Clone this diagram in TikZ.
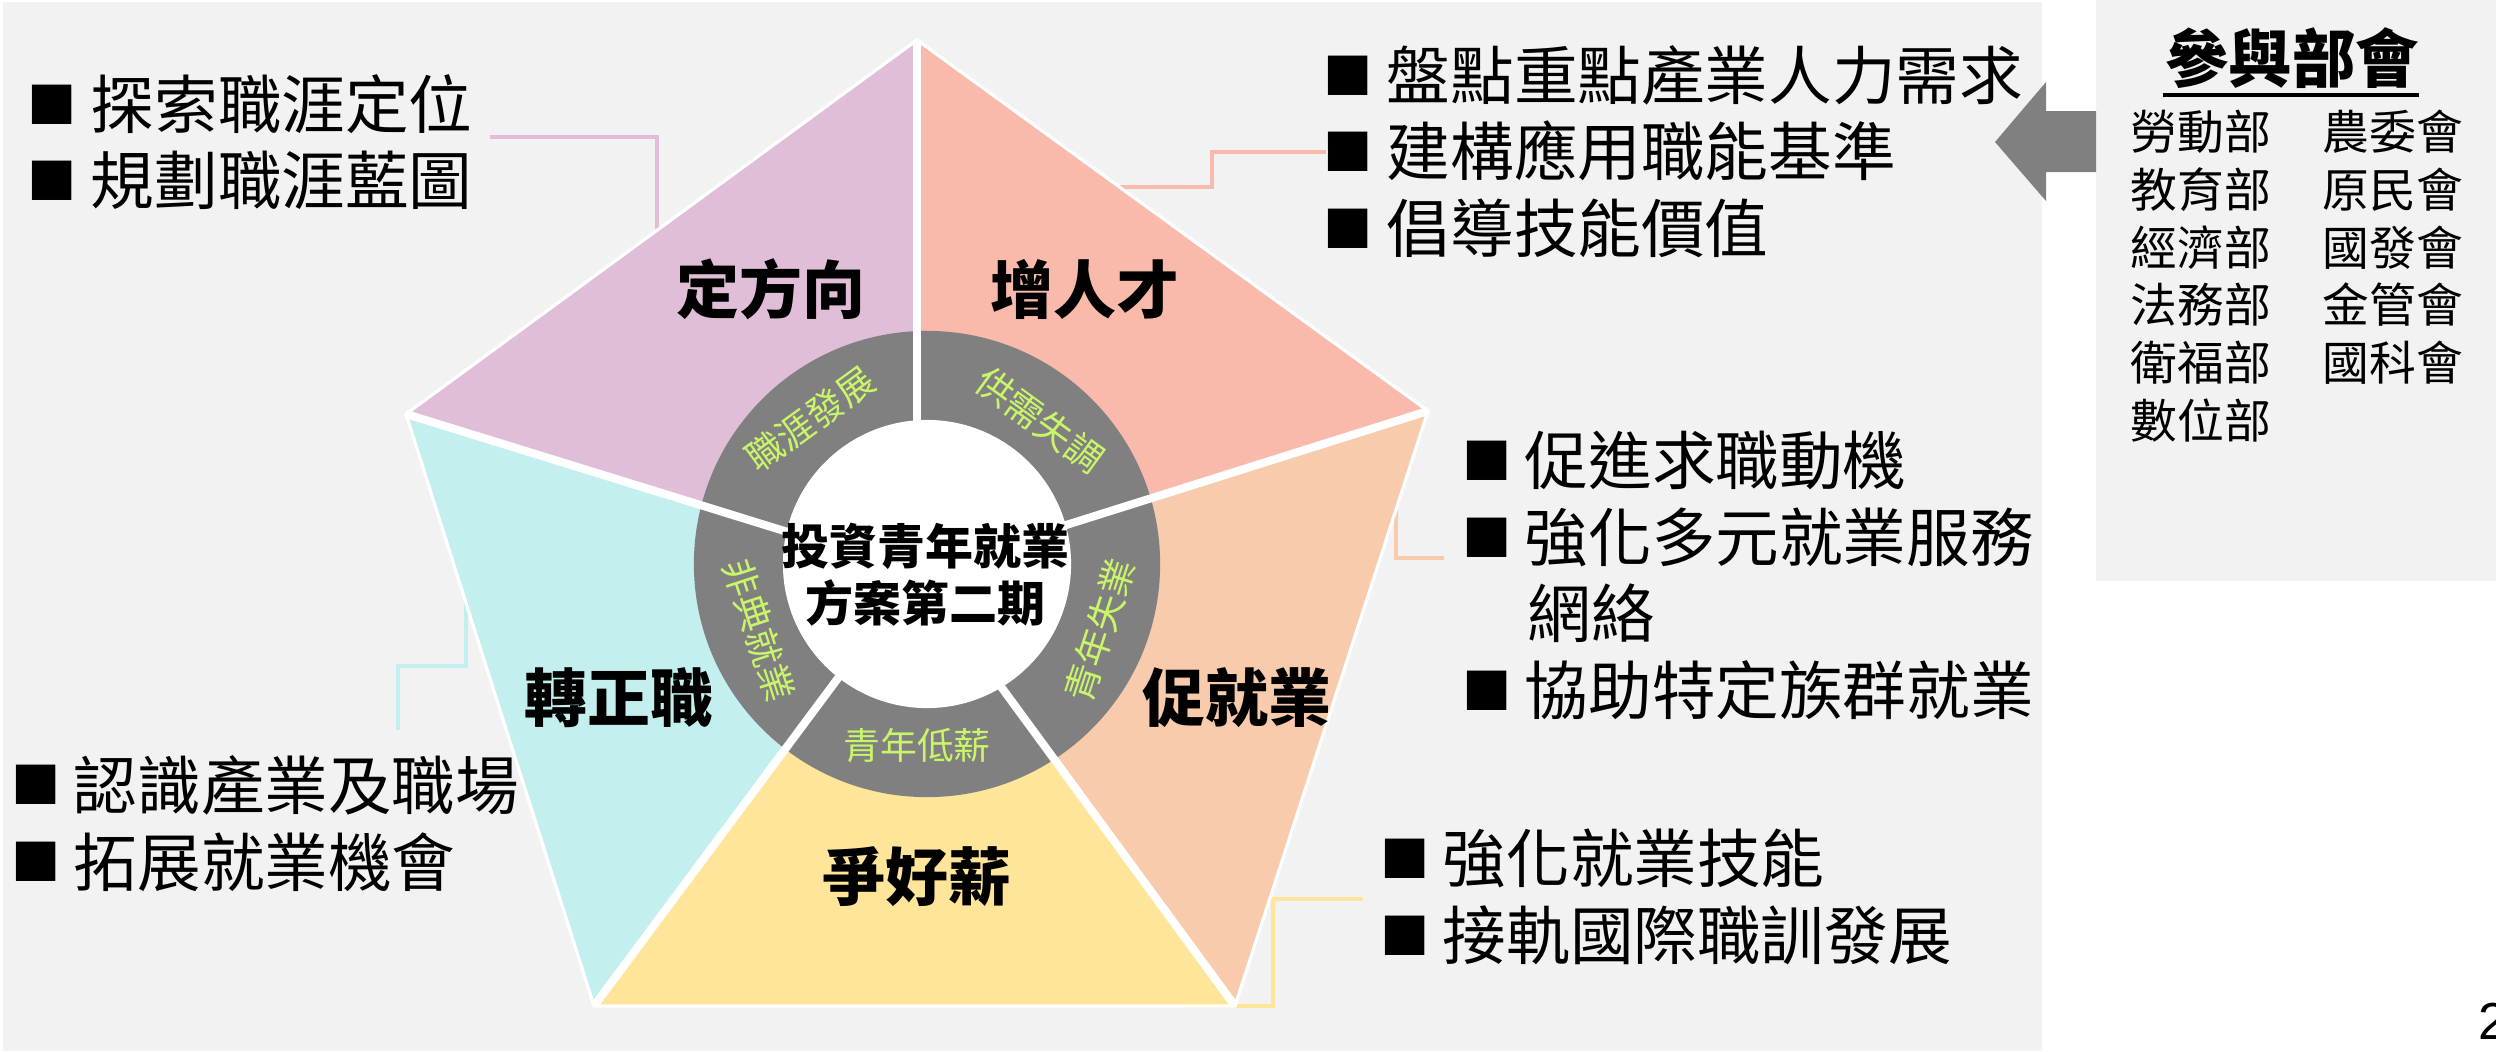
\documentclass[tikz,border=0pt]{standalone}
\usepackage{fontspec}
\setmainfont{Noto Sans CJK TC}
\newfontfamily\latinsans{Liberation Sans}
\definecolor{bgc}{HTML}{F2F2F2}
\definecolor{purp}{HTML}{E1BED7}
\definecolor{salm}{HTML}{F9B9AB}
\definecolor{peach}{HTML}{F7CBAC}
\definecolor{yell}{HTML}{FFE599}
\definecolor{cyanc}{HTML}{C3EFEE}
\definecolor{ringc}{HTML}{808080}
\definecolor{labg}{HTML}{C8F56A}
\definecolor{arrc}{HTML}{808080}
\newcommand\fbul{\fontsize{18.1pt}{21pt}\selectfont}
\newcommand\fsq{\fontsize{14pt}{14pt}\selectfont}
\newcommand\fttl{\fontsize{17.9pt}{20pt}\selectfont\bfseries}
\newcommand\fctr{\fontsize{13.65pt}{16.2pt}\selectfont\bfseries}
\newcommand\frl{\fontsize{10.5pt}{12pt}\selectfont}
\newcommand\fdept{\fontsize{13.3pt}{15pt}\selectfont}
\newcommand\fhead{\fontsize{18pt}{20pt}\selectfont\bfseries}
\begin{document}
\begin{tikzpicture}[x=0.01cm,y=-0.01cm,
  bul/.style={inner sep=0pt,anchor=center,font=\fsq},
  txt/.style={inner sep=0pt,anchor=west,font=\fbul},
  ttl/.style={inner sep=0pt,anchor=center,font=\fttl},
  rlab/.style={inner sep=0pt,anchor=center,text=labg,font=\frl},
  dept/.style={inner sep=0pt,anchor=west,font=\fdept},
  callout/.style={line width=1.4pt,line cap=butt,line join=miter},
  divider/.style={white,line width=2.3pt}]
\useasboundingbox (0,0) rectangle (2496,1051);
% backgrounds
\fill[bgc] (3,2) rectangle (2042,1051);
\fill[bgc] (2096,0) rectangle (2496,581);
% pentagon geometry
\coordinate (T) at (917,40);
\coordinate (R) at (1428,411);
\coordinate (BR) at (1235,1006);
\coordinate (BL) at (594,1006);
\coordinate (L) at (406,414);
\coordinate (P) at (917,572);
\coordinate (C) at (927,564);
% callout coordinates
\coordinate (pa) at (490,137); \coordinate (pb) at (657,137); \coordinate (pc) at (657,232);
\coordinate (sa) at (1326,152); \coordinate (sb) at (1212,152); \coordinate (sc) at (1212,187); \coordinate (sd) at (1116,187);
\coordinate (ea) at (1444,558); \coordinate (eb) at (1396,558); \coordinate (ec) at (1396,505);
\coordinate (ya) at (1363,899); \coordinate (yb) at (1273,899); \coordinate (yc) at (1273,1006); \coordinate (yd) at (1186,1006);
\coordinate (ka) at (398,730); \coordinate (kb) at (398,666); \coordinate (kc) at (466,666); \coordinate (kd) at (466,598);
\draw[callout,purp] (pa) -- (pb) -- (pc);
\draw[callout,salm] (sa) -- (sb) -- (sc) -- (sd);
\draw[callout,peach] (ea) -- (eb) -- (ec);
\draw[callout,yell] (ya) -- (yb) -- (yc) -- (yd);
\draw[callout,cyanc] (ka) -- (kb) -- (kc) -- (kd);
% slices
\fill[purp] (T) -- (L) -- (P) -- cycle;
\fill[salm] (T) -- (R) -- (P) -- cycle;
\fill[peach] (R) -- (BR) -- (P) -- cycle;
\fill[yell] (BR) -- (BL) -- (P) -- cycle;
\fill[cyanc] (BL) -- (L) -- (P) -- cycle;
\draw[white,line width=0.9pt,line join=miter] (T) -- (R) -- (BR) -- (BL) -- (L) -- cycle;
% ring
\fill[ringc] (C) circle (2.33cm);
\draw[divider] (T) -- (P);
\draw[divider] (R) -- (P);
\draw[divider] (BR) -- (P);
\draw[divider] (BL) -- (P);
\draw[divider] (L) -- (P);
\fill[white] (C) circle (1.44cm);
% center text
\node[inner sep=0pt,align=center,font=\fctr] (ctext) at (925,575) {投資青年就業\\方案第二期};
% ring labels
\node[rlab,rotate=36] (r1) at (810,419) {職涯發展};
\node[rlab,rotate=-36] (r2) at (1040,420) {供需失調};
\node[rlab,rotate=72] (r3) at (1100,630) {青年失業};
\node[rlab] (r4) at (917,746) {青年低薪};
\node[rlab,rotate=-72] (r5) at (759,630) {非典就業};
% slice titles
\node[ttl] (s1) at (771,289) {定方向};
\node[ttl] (s2) at (1085,289) {增人才};
\node[ttl] (s3) at (1237,698) {促就業};
\node[ttl] (s4) at (917,877) {爭好薪};
\node[ttl] (s5) at (619,698) {轉正職};
% top-left bullets
\node[bul] (q1) at (52,105) {■};
\node[txt] (t1) at (90,104) {探索職涯定位};
\node[bul] (q2) at (52,181) {■};
\node[txt] (t2) at (90,180) {規劃職涯藍圖};
% top-right bullets
\node[bul] (q3) at (1348,76) {■};
\node[txt] (t3) at (1386,75) {盤點重點產業人力需求};
\node[bul] (q4) at (1348,152) {■};
\node[txt] (t4) at (1386,151) {建構應用職能基準};
\node[bul] (q5) at (1348,229) {■};
\node[txt] (t5) at (1386,228) {倡導技能價值};
% right-middle bullets
\node[bul] (q6) at (1487,461) {■};
\node[txt] (t6) at (1524,460) {促進求職動機};
\node[bul] (q7) at (1487,538) {■};
\node[txt] (t7) at (1524,537) {強化多元就業服務};
\node[txt] (t7b) at (1527,613) {網絡};
\node[bul] (q8) at (1487,691) {■};
\node[txt] (t8) at (1524,690) {協助特定族群就業};
% bottom-right bullets
\node[bul] (q9) at (1405,859) {■};
\node[txt] (t9) at (1442,858) {強化就業技能};
\node[bul] (q10) at (1405,936) {■};
\node[txt] (t10) at (1442,935) {接軌國際職訓發展};
% bottom-left bullets
\node[bul] (q11) at (36,785) {■};
\node[txt] (t11) at (73,785) {認識產業及職場};
\node[bul] (q12) at (36,862) {■};
\node[txt] (t12) at (73,862) {拓展就業機會};
% arrow
\fill[arrc] (1995,142) -- (2046,82) -- (2046,111) -- (2096,111) -- (2096,172) -- (2046,172) -- (2046,201) -- cycle;
% departments box
\node[inner sep=0pt,font=\fhead] (head) at (2292,58) {參與部會};
\coordinate (u1) at (2163,95); \coordinate (u2) at (2419,95);
\draw[line width=1.1pt] (u1) -- (u2);
\node[dept] (d1) at (2130,132) {勞動部};
\node[dept] (d2) at (2130,190) {教育部};
\node[dept] (d3) at (2130,248) {經濟部};
\node[dept] (d4) at (2130,305) {法務部};
\node[dept] (d5) at (2130,363) {衛福部};
\node[dept] (d6) at (2130,421) {數位部};
\node[dept] (e1) at (2322,132) {農委會};
\node[dept] (e2) at (2322,190) {原民會};
\node[dept] (e3) at (2322,248) {國發會};
\node[dept] (e4) at (2322,305) {金管會};
\node[dept] (e5) at (2322,363) {國科會};
% page number
\node[inner sep=0pt,anchor=west,font={\latinsans\fontsize{14.8pt}{16pt}\selectfont}] (pg) at (2478,1021) {2};
\end{tikzpicture}
\end{document}
